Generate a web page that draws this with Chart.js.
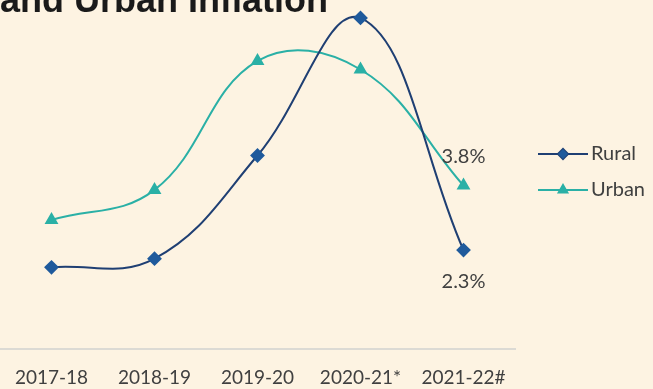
<!DOCTYPE html>
<html>
<head>
<meta charset="utf-8">
<script src="https://cdn.jsdelivr.net/npm/chart.js@4.4.1/dist/chart.umd.min.js"></script>
<style>
  html, body { margin: 0; padding: 0; background: #fdf3e2; }
  #wrap { width: 653px; height: 389px; position: relative; }
</style>
</head>
<body>
<div id="wrap"><canvas id="chartInfl"></canvas></div>
<script>
const categories = ["2017-18", "2018-19", "2019-20", "2020-21*", "2021-22#"];
const ruralValues = [1.9, 2.1, 4.5, 7.7, 2.3];
const urbanValues = [3.0, 3.7, 6.7, 6.5, 3.8];
const seriesNames = ["Rural", "Urban"];
const titleText = "and Urban Inflation";

const cRural = '#1f3f73';
const cRuralPt = '#1f5a9c';
const cUrban = '#2ab0a6';
const txtColor = '#404040';
const fontTxt = "Lato, 'Open Sans', sans-serif";

// titre coupé en haut + étiquettes + légende dessinée à la main
const extras = {
  id: 'extras',
  afterDraw(chart) {
    const ctx = chart.ctx;
    ctx.save();
    ctx.fillStyle = '#1a1a1a';
    ctx.font = "bold 36px 'Liberation Sans', Arial, sans-serif";
    ctx.textAlign = 'left';
    ctx.textBaseline = 'alphabetic';
    ctx.fillText(titleText, 0, 12);

    // valeurs de la dernière année
    ctx.font = '20px ' + fontTxt;
    ctx.fillStyle = txtColor;
    ctx.textAlign = 'center';
    ctx.textBaseline = 'middle';
    const last = categories.length - 1;
    const pU = chart.getDatasetMeta(1).data[last];
    const pR = chart.getDatasetMeta(0).data[last];
    ctx.fillText(urbanValues[last].toFixed(1) + '%', pU.x, pU.y - 29);
    ctx.fillText(ruralValues[last].toFixed(1) + '%', pR.x, pR.y + 31);

    // légende
    const items = [
      { name: seriesNames[0], line: cRural, pt: cRuralPt, style: 'rectRot', y: 154 },
      { name: seriesNames[1], line: cUrban, pt: cUrban, style: 'triangle', y: 190 }
    ];
    items.forEach(it => {
      ctx.strokeStyle = it.line;
      ctx.lineWidth = 2;
      ctx.beginPath();
      ctx.moveTo(538, it.y);
      ctx.lineTo(588, it.y);
      ctx.stroke();
      ctx.fillStyle = it.pt;
      Chart.helpers.drawPoint(ctx, { pointStyle: it.style, radius: 5, borderWidth: 1 }, 563, it.y);
      ctx.fill();
      ctx.fillStyle = txtColor;
      ctx.textAlign = 'left';
      ctx.fillText(it.name, 591, it.y);
    });
    ctx.restore();
  }
};

const config = {
  type: 'line',
  data: {
    labels: categories,
    datasets: [
      {
        label: seriesNames[0],
        data: ruralValues,
        borderColor: cRural,
        backgroundColor: cRuralPt,
        pointBackgroundColor: cRuralPt,
        pointBorderColor: cRuralPt,
        pointStyle: 'rectRot',
        pointRadius: 6,
        borderWidth: 2,
        tension: 0.4,
        clip: false
      },
      {
        label: seriesNames[1],
        data: urbanValues,
        borderColor: cUrban,
        backgroundColor: cUrban,
        pointBackgroundColor: cUrban,
        pointBorderColor: cUrban,
        pointStyle: 'triangle',
        pointRadius: 6,
        borderWidth: 2,
        tension: 0.4,
        clip: false
      }
    ]
  },
  options: {
    responsive: true,
    maintainAspectRatio: false,
    animation: false,
    layout: { autoPadding: false, padding: { left: 0, right: 138, top: 5, bottom: 0 } },
    scales: {
      x: {
        offset: true,
        grid: { display: false, drawTicks: false },
        border: { display: true, color: '#dcdad4', width: 2 },
        ticks: { color: txtColor, font: { family: fontTxt, size: 19 }, padding: 17, maxRotation: 0, autoSkip: false },
        afterFit(scale) {
          scale.paddingLeft = 0;
          scale.paddingRight = 0;
          scale.height = 40;
        }
      },
      y: { display: false, min: 0, max: 8 }
    },
    plugins: { legend: { display: false }, tooltip: { enabled: false } }
  },
  plugins: [extras]
};

const infl = new Chart(document.getElementById('chartInfl'), config);
</script>
</body>
</html>
